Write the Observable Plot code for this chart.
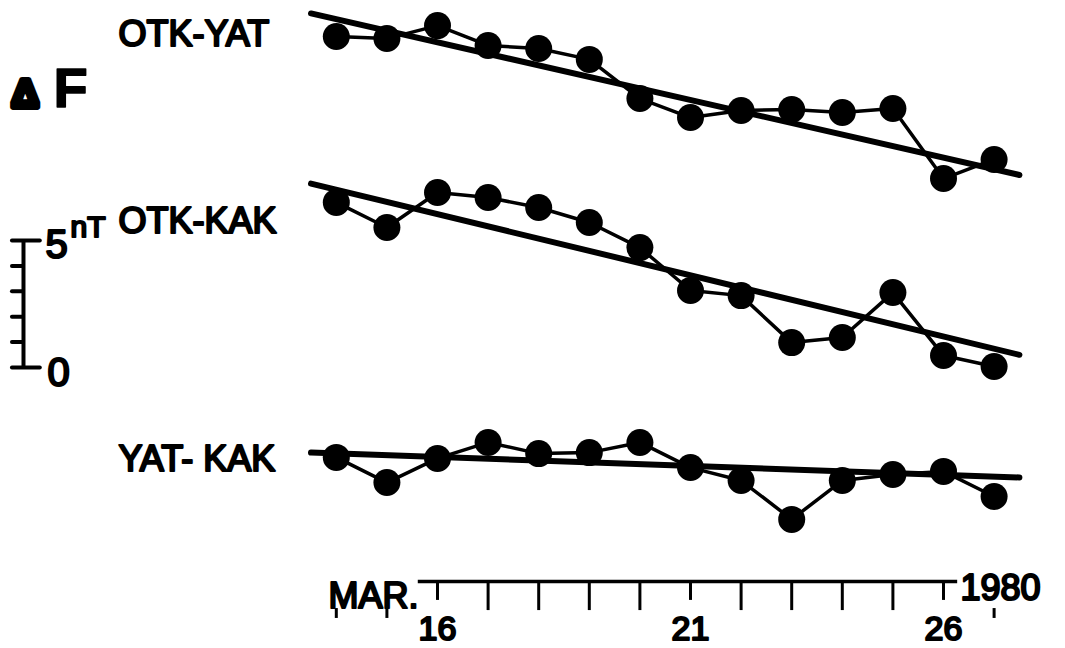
<!DOCTYPE html>
<html>
<head>
<meta charset="utf-8">
<script src="https://cdn.jsdelivr.net/npm/d3@7"></script>
<script src="https://cdn.jsdelivr.net/npm/@observablehq/plot@0.6"></script>
<style>
  html, body { margin: 0; padding: 0; background: #fff; }
  #chart { width: 1065px; height: 648px; }
</style>
</head>
<body>
<div id="chart"></div>
<script>
// ---- Data ----
const days = [14, 15, 16, 17, 18, 19, 20, 21, 22, 23, 24, 25, 26, 27];   // March 1980
const seriesNames = ["OTK-YAT", "OTK-KAK", "YAT- KAK"];
// ΔF differences in nT (each series shown with its own vertical offset)
const otkYat = [6.03, 5.95, 6.46, 5.68, 5.56, 5.13, 3.59, 2.84, 3.12, 3.16, 3.04, 3.20, 0.44, 1.19];
const otkKak = [6.50, 5.51, 6.89, 6.69, 6.30, 5.71, 4.72, 3.03, 2.83, 0.98, 1.18, 2.95, 0.47, 0.04];
const yatKak = [3.46, 2.47, 3.42, 4.05, 3.61, 3.65, 4.05, 3.06, 2.55, 1.02, 2.55, 2.79, 2.91, 1.92];
// Trend lines (values at start/end days)
const trendDays = [13.5, 27.5];
const trendStart = [6.94, 7.24, 3.65];
const trendEnd = [0.58, 0.50, 2.67];
// Scale bar (nT) and date axis
const scaleTicks = [0, 1, 2, 3, 4, 5];
const axisTicks = [16, 17, 18, 19, 20, 21, 22, 23, 24, 25, 26];
const tickLabels = [16, 21, 26];
const outerTicks = [14, 15, 27];

// ---- Layout ----
const offsets = [7, 0, -7];
const seriesValues = [otkYat, otkKak, yatKak];
const points = [];
seriesValues.forEach((vals, i) => vals.forEach((v, j) =>
  points.push({series: seriesNames[i], day: days[j], value: v + offsets[i]})));
const trends = [];
seriesNames.forEach((s, i) => {
  trends.push({series: s, day: trendDays[0], value: trendStart[i] + offsets[i]});
  trends.push({series: s, day: trendDays[1], value: trendEnd[i] + offsets[i]});
});

const axisY = -8.43, tickEndY = -9.57, labTickEndY = -9.17;
const font = "Liberation Sans, Arial, sans-serif";
const txt = (data, o) => Plot.text(data, Object.assign({
  fill: "black", stroke: "black", strokeWidth: 2.2, fontFamily: font,
  textAnchor: "start", lineAnchor: "bottom"}, o));

const chart = Plot.plot({
  width: 1065, height: 648,
  marginTop: 0, marginRight: 0, marginBottom: 0, marginLeft: 0,
  x: {domain: [7.3636, 28.411], axis: null},
  y: {domain: [-11.063, 14.449], axis: null},
  style: {background: "white"},
  marks: [
    // trend lines
    Plot.line(trends, {x: "day", y: "value", z: "series", stroke: "black", strokeWidth: 6, strokeLinecap: "round"}),
    // daily series
    Plot.line(points, {x: "day", y: "value", z: "series", stroke: "black", strokeWidth: 3.5}),
    Plot.dot(points, {x: "day", y: "value", r: 13.5, fill: "black"}),
    // scale bar
    Plot.ruleX([7.818], {y1: 0, y2: 5, stroke: "black", strokeWidth: 4}),
    Plot.ruleY(scaleTicks, {y: d => d, x1: 7.60, x2: d => (d === 0 || d === 5) ? 8.15 : 7.818, stroke: "black", strokeWidth: 4, strokeLinecap: "round"}),
    // date axis
    Plot.ruleY([axisY], {x1: 15.62, x2: 26.28, stroke: "black", strokeWidth: 3.5}),
    Plot.ruleX(axisTicks, {x: d => d, y1: axisY, y2: d => tickLabels.includes(d) ? labTickEndY : tickEndY, stroke: "black", strokeWidth: 3}),
    Plot.ruleX(outerTicks, {x: d => d, y1: -9.49, y2: -9.88, stroke: "black", strokeWidth: 3}),
    txt(tickLabels, {x: d => d, y: -10.71, text: d => String(d), textAnchor: "middle", fontSize: 34}),
    txt(["MAR."], {x: 13.846, y: -9.45, text: d => d, fontSize: 36}),
    txt(["1980"], {x: 26.336, y: -9.17, text: d => d, fontSize: 36}),
    // series labels
    txt([seriesNames[0]], {x: 9.696, y: 12.64, text: d => d, fontSize: 36}),
    txt([seriesNames[1]], {x: 9.696, y: 5.28, text: d => d, fontSize: 36}),
    txt([seriesNames[2]], {x: 9.696, y: -4.06, text: d => d, fontSize: 36}),
    // ΔF title and scale labels
    txt(["Δ"], {x: 7.58, y: 10.24, text: d => d, fontSize: 38, fontWeight: "bold", strokeWidth: 6}),
    txt(["F"], {x: 8.411, y: 10.24, text: d => d, fontSize: 56, fontWeight: "bold", strokeWidth: 1.5}),
    txt(["5"], {x: 8.253, y: 4.33, text: d => d, fontSize: 40}),
    txt(["nT"], {x: 8.747, y: 5.12, text: d => d, fontSize: 30}),
    txt(["0"], {x: 8.292, y: -0.71, text: d => d, fontSize: 40})
  ]
});
document.getElementById("chart").appendChild(chart);
</script>
</body>
</html>
